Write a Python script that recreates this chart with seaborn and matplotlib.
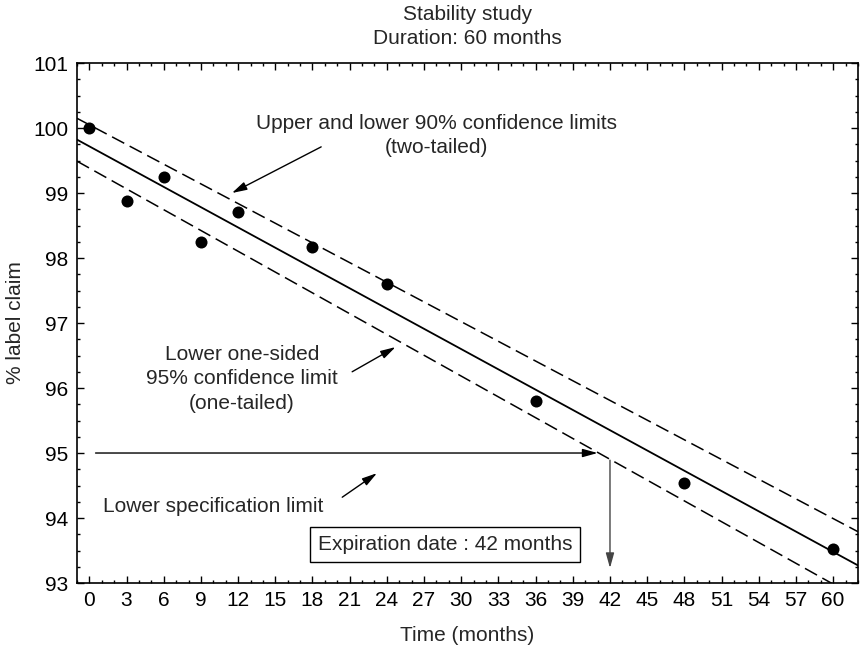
import numpy as np
import pandas as pd
import matplotlib
matplotlib.use("Agg")
import matplotlib.pyplot as plt
from matplotlib.ticker import MultipleLocator
import seaborn as sns

# stability data
months = [0, 3, 6, 9, 12, 18, 24, 36, 48, 60]
label_claim = [100.0, 98.88, 99.25, 98.24, 98.71, 98.17, 97.60, 95.80, 94.54, 93.53]

# dashed confidence limits (ends at the axis edges)
band_months = [-1, 62]
upper_limit = [100.15, 93.79]
lower_limit = [99.49, 92.77]

spec_limit = 95.0
expiry_month = 42
x_ticks = list(range(0, 61, 3))
y_ticks = list(range(93, 102))

df = pd.DataFrame({"Time": months, "Claim": label_claim})
bands = pd.DataFrame({"Time": band_months, "Upper": upper_limit, "Lower": lower_limit})

sns.set_style("ticks")
plt.rcParams["font.family"] = ["Liberation Sans", "DejaVu Sans"]
fs = 15

fig = plt.figure(figsize=(8.61, 6.45), dpi=100)
ax = fig.add_axes([0.0894, 0.0961, 0.907, 0.8062])
ax.set_xlim(-1, 62)
ax.set_ylim(93, 101)

sns.regplot(data=df, x="Time", y="Claim", ci=None, truncate=False, ax=ax,
            scatter_kws=dict(color="black", s=75, linewidths=0, alpha=1, zorder=4),
            line_kws=dict(color="black", lw=1.3))
sns.lineplot(data=bands, x="Time", y="Upper", ax=ax, color="black", lw=1.1,
             linestyle=(0, (9, 4)))
sns.lineplot(data=bands, x="Time", y="Lower", ax=ax, color="black", lw=1.1,
             linestyle=(0, (9, 4)))

ax.set_xlim(-1, 62)
ax.set_ylim(93, 101)
ax.set_xticks(x_ticks)
ax.set_yticks(y_ticks)
ax.xaxis.set_minor_locator(MultipleLocator(1))
ax.yaxis.set_minor_locator(MultipleLocator(0.25))
ax.tick_params(which="both", direction="in", top=True, right=True, width=1,
               labelsize=fs, colors="black")
ax.tick_params(which="major", length=5, pad=6)
ax.tick_params(which="minor", length=2.5)
for s in ax.spines.values():
    s.set_linewidth(1.2)
    s.set_color("black")

ax.set_xlabel("Time (months)", fontsize=fs, labelpad=11)
ax.set_ylabel("% label claim", fontsize=fs, labelpad=6)
ax.set_title("Stability study\nDuration: 60 months", fontsize=fs, linespacing=1.3, pad=14)

arrow = dict(arrowstyle="-|>,head_length=0.9,head_width=0.25", color="black", lw=1,
             shrinkA=0, shrinkB=0)

ax.text(28.0, 99.88, "Upper and lower 90% confidence limits\n(two-tailed)",
        ha="center", va="center", fontsize=fs, linespacing=1.35)
ax.annotate("", xy=(11.5, 99.0), xytext=(18.7, 99.71), arrowprops=arrow)

ax.text(12.3, 96.14, "Lower one-sided\n95% confidence limit\n(one-tailed)",
        ha="center", va="center", fontsize=fs, linespacing=1.35)
ax.annotate("", xy=(24.7, 96.63), xytext=(21.2, 96.25), arrowprops=arrow)

ax.annotate("", xy=(41.0, spec_limit), xytext=(0.5, spec_limit), arrowprops=arrow)
ax.text(10.0, 94.17, "Lower specification limit", ha="center", va="center", fontsize=fs)
ax.annotate("", xy=(23.2, 94.69), xytext=(20.4, 94.32), arrowprops=arrow)

ax.annotate("", xy=(expiry_month, 93.23), xytext=(expiry_month, 94.89),
            arrowprops=dict(arrow, color="#444444"))
ax.text(28.7, 93.59, "Expiration date : 42 months", ha="center", va="center", fontsize=fs,
        bbox=dict(boxstyle="square,pad=0.38", fc="white", ec="black", lw=1))

fig.savefig("out.png", dpi=100)
